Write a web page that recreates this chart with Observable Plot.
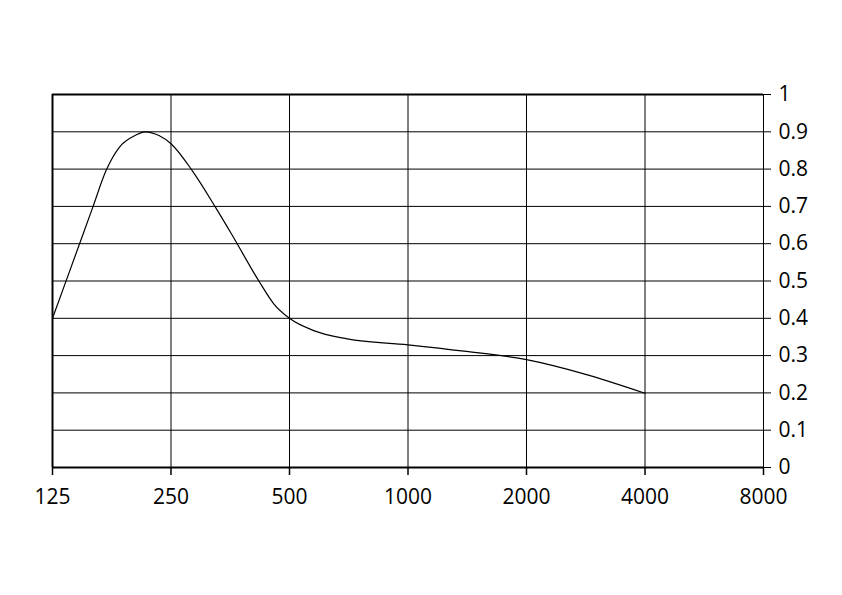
<!DOCTYPE html>
<html>
<head>
<meta charset="utf-8">
<script src="https://cdn.jsdelivr.net/npm/d3@7"></script>
<script src="https://cdn.jsdelivr.net/npm/@observablehq/plot@0.6"></script>
<style>
  html, body { margin: 0; padding: 0; background: #fff; }
  #chart { width: 842px; height: 595px; }
</style>
</head>
<body>
<div id="chart"></div>
<script>
// Frequency (Hz) and absorption values
const frequencies = [125, 135, 158, 171, 185, 200, 215, 233, 250, 283, 325, 358, 418, 456, 500, 576, 701, 1000, 1386, 2000, 2797, 4000];
const values      = [0.40, 0.497, 0.696, 0.796, 0.859, 0.887, 0.90, 0.89, 0.868, 0.796, 0.696, 0.622, 0.50, 0.439, 0.40, 0.367, 0.345, 0.329, 0.312, 0.289, 0.251, 0.199];

const xTicks = [125, 250, 500, 1000, 2000, 4000, 8000];
const yTicks = [0, 0.1, 0.2, 0.3, 0.4, 0.5, 0.6, 0.7, 0.8, 0.9, 1];
const yTickLabels = ["0", "0.1", "0.2", "0.3", "0.4", "0.5", "0.6", "0.7", "0.8", "0.9", "1"];

const data = frequencies.map((f, i) => ({f, v: values[i]}));

const chart = Plot.plot({
  width: 842,
  height: 595,
  marginLeft: 52,
  marginRight: 79,
  marginTop: 94,
  marginBottom: 128,
  style: {fontFamily: "'Open Sans', sans-serif", fontSize: "21px", color: "#000", background: "#fff"},
  x: {type: "log", base: 2, domain: [125, 8000]},
  y: {domain: [0, 1]},
  marks: [
    Plot.ruleX(xTicks, {stroke: "#000", strokeWidth: 1}),
    Plot.ruleY(yTicks, {stroke: "#000", strokeWidth: 1}),
    Plot.ruleX([125], {stroke: "#000", strokeWidth: 2}),
    Plot.ruleY([0, 1], {stroke: "#000", strokeWidth: 2}),
    Plot.axisX({ticks: xTicks, tickSize: 8, tickPadding: 14, fontSize: 21, tickFormat: d => String(d), label: null, stroke: "#000", strokeWidth: 1.5}),
    Plot.axisY({anchor: "right", ticks: yTicks, tickSize: 7, tickPadding: 8, fontSize: 21, tickFormat: (d, i) => yTickLabels[i], label: null, stroke: "#000", textAnchor: "start"}),
    Plot.line(data, {x: "f", y: "v", stroke: "#000", strokeWidth: 1.2, curve: "monotone-x"})
  ]
});
document.getElementById("chart").append(chart);
</script>
</body>
</html>
